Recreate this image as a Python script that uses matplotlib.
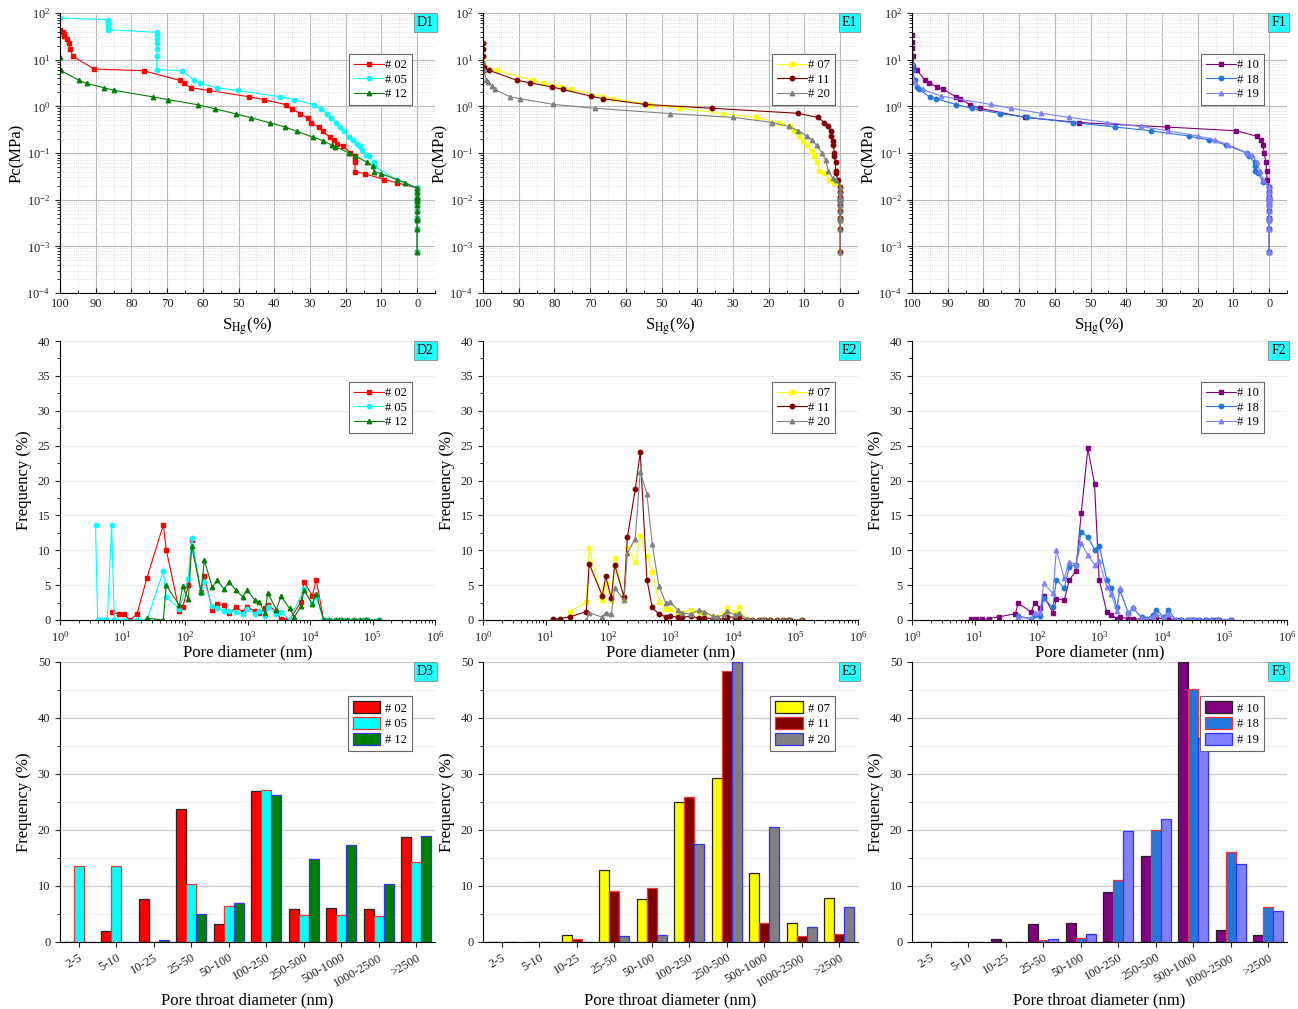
import matplotlib
matplotlib.use("Agg")
import matplotlib.pyplot as plt
from matplotlib.ticker import MultipleLocator, LogLocator, NullFormatter
import numpy as np

plt.rcParams['font.family'] = ['Liberation Serif', 'DejaVu Serif']
plt.rcParams['mathtext.fontset'] = 'stix'

N = None

# ====================================
# 1. Capillary pressure curves (row 1)
# ====================================
# points at S_Hg = 0 shared by all samples
tail_pc = [0.0148, 0.0116, 0.0101, 0.0094, 0.0077, 0.0058, 0.0040, 0.0036, 0.0023, 0.00074]

d1_02_s = [100, 99.1, 98.8, 98.8, 98.1, 97.4, 97.2, 96.4, 90.4, 76.6, 66.5, 65.2, 63.4, 58.4, 47.0, 43.0,
           36.6, 35.0, 32.7, 30.7, 29.6, 27.6, 26.4, 24.5, 23.4, 22.4, 20.7, 18.7, 17.5, 17.4, 17.4, 17.4,
           14.7, 9.2, 5.6, 0]
d1_02_p = [44, 38.5, 35.4, 32.6, 27.6, 22.7, 16.9, 11.7, 6.3, 5.8, 3.6, 3.1, 2.5, 2.2, 1.6, 1.4,
           1.08, 0.88, 0.69, 0.57, 0.45, 0.36, 0.29, 0.22, 0.19, 0.155, 0.14, 0.10, 0.085, 0.07, 0.063, 0.04,
           0.036, 0.027, 0.023, 0.0177]
d1_05_s = [100, 86.6, 86.6, 86.6, 86.6, 86.6, 86.6, 72.9, 72.9, 72.9, 72.9, 72.9, 72.9, 72.9, 65.9, 62.4,
           60.7, 56.1, 50.3, 38.3, 34.4, 29.0, 26.9, 25.2, 24.0, 22.6, 21.7, 20.6, 19.2, 18.0, 16.8, 16.1,
           15.4, 14.2, 13.5, 12.1, 12.1, 5.6, 0]
d1_05_p = [78, 72, 65, 60, 55, 48, 44, 38.5, 33, 28, 23, 17, 12, 6.1, 5.8, 3.6,
           3.1, 2.5, 2.2, 1.6, 1.4, 1.08, 0.88, 0.69, 0.57, 0.44, 0.36, 0.29, 0.22, 0.19, 0.155, 0.14,
           0.116, 0.091, 0.085, 0.063, 0.053, 0.026, 0.0177]
d1_12_s = [100, 99.8, 94.7, 92.5, 87.7, 84.8, 74.1, 69.9, 61.4, 56.7, 50.8, 46.5, 41.1, 36.9, 33.6, 29.3,
           26.4, 23.8, 22.9, 19.0, 17.3, 14.0, 12.3, 12.0, 10.1, 5.6, 3.3, 0]
d1_12_p = [11.3, 5.9, 3.6, 3.1, 2.5, 2.2, 1.6, 1.4, 1.08, 0.89, 0.69, 0.57, 0.44, 0.36, 0.29, 0.22,
           0.185, 0.145, 0.137, 0.10, 0.087, 0.063, 0.053, 0.04, 0.036, 0.027, 0.023, 0.0177]

e1_07_s = [100, 99.3, 96.2, 85.9, 83.1, 78.2, 75.4, 66.5, 63.5, 53.2, 44.9, 32.9, 23.7, 17.0, 14.0, 13.0,
           11.6, 10.5, 9.3, 7.8, 7.4, 6.5, 5.8, 4.6, 3.0, 1.8, 0]
e1_07_p = [10, 6.8, 5.9, 3.6, 3.2, 2.66, 2.3, 1.62, 1.46, 1.09, 0.91, 0.70, 0.58, 0.45, 0.37, 0.30,
           0.23, 0.18, 0.145, 0.11, 0.088, 0.063, 0.042, 0.038, 0.027, 0.023, 0.019]
e1_11_s = [100, 100, 100, 99.8, 98.3, 90.4, 86.9, 80.6, 77.6, 69.9, 66.5, 54.7, 36.0, 11.9, 6.3, 4.4,
           3.5, 2.7, 2.5, 2.1, 1.9, 1.6, 1.6, 1.3, 1.3, 1.1, 0.7, 0]
e1_11_p = [23, 17, 12, 6.8, 5.9, 3.6, 3.2, 2.6, 2.3, 1.66, 1.46, 1.1, 0.91, 0.71, 0.58, 0.45,
           0.37, 0.30, 0.23, 0.18, 0.145, 0.10, 0.088, 0.063, 0.042, 0.038, 0.027, 0.019]
e1_20_s = [100, 99.8, 99.1, 98.5, 97.6, 96.7, 92.4, 89.7, 80.3, 68.7, 47.7, 29.9, 19.0, 14.3, 11.8, 9.2,
           7.8, 6.6, 5.0, 4.1, 3.3, 2.1, 1.1, 0]
e1_20_p = [9.1, 6.1, 3.7, 3.3, 2.7, 2.3, 1.6, 1.46, 1.1, 0.91, 0.70, 0.58, 0.45, 0.37, 0.30, 0.23,
           0.19, 0.145, 0.10, 0.07, 0.042, 0.029, 0.027, 0.019]

f1_10_s = [100, 99.9, 99.9, 99.7, 99.6, 98.6, 96.3, 95.2, 92.9, 91.2, 87.7, 86.7, 83.8, 81.0, 68.4, 53.3,
           28.7, 9.3, 3.5, 2.3, 1.7, 1.4, 0.9, 0.7, 0.6, 0]
f1_10_p = [34, 24, 17.7, 12, 7.2, 5.9, 3.6, 3.2, 2.6, 2.3, 1.6, 1.46, 1.09, 0.91, 0.58, 0.45,
           0.36, 0.30, 0.23, 0.19, 0.145, 0.10, 0.063, 0.042, 0.027, 0.019]
f1_18_s = [100, 99.7, 99.3, 98.6, 98.0, 95.1, 93.3, 87.6, 83.2, 75.4, 67.7, 54.9, 43.2, 33.2, 22.4, 16.8,
           12.2, 6.3, 5.6, 4.0, 3.9, 3.9, 3.1, 1.7, 0]
f1_18_p = [8, 5.9, 3.6, 2.6, 2.3, 1.6, 1.46, 1.09, 0.91, 0.70, 0.58, 0.45, 0.36, 0.30, 0.23, 0.19,
           0.15, 0.10, 0.085, 0.063, 0.053, 0.042, 0.038, 0.024, 0.019]
f1_19_s = [100, 99.7, 99.2, 97.0, 91.8, 78.0, 72.2, 63.9, 56.0, 45.3, 36.0, 28.3, 19.9, 15.2, 11.5, 6.1,
           4.9, 3.4, 2.7, 1.7, 0]
f1_19_p = [8, 3.7, 3.3, 2.3, 1.65, 1.1, 0.91, 0.71, 0.58, 0.45, 0.37, 0.30, 0.23, 0.19, 0.15, 0.10,
           0.09, 0.064, 0.042, 0.027, 0.019]

# ====================================
# 2. Pore diameter distributions (row 2)
# ====================================
pore_d = [3.7, 4.0, 4.5, 5.0, 5.7, 6.7, 7.4, 8.9, 10.5, 13, 17, 24.5, 45, 50, 81, 92, 113, 128, 180, 204,
          273, 328, 419, 510, 651, 832, 988, 1309, 1550, 1900, 2100, 2900, 3440, 4040, 4700, 5600, 7180,
          8020, 10900, 12600, 16500, 20400, 26000, 29400, 33100, 39800, 51000, 62000, 75000, 83000, 126000]

d2_02 = [N, N, N, N, N, 1.15, N, 0.8, 0.8, 0.0, 0.8, 6.0, 13.65, 10.1, 1.3, 1.8, 5.0, 11.4, 4.05, 6.35,
         1.45, 2.25, 2.1, 0.95, 1.8, 1.2, 1.9, 1.3, 0.95, 1.65, 2.15, 1.2, 0.1, 0, 0, N, 2.6,
         5.45, 3.5, 5.8, 0, 0, 0, 0, 0, 0, 0, 0, 0, 0, 0]
d2_05 = [13.55, 0, 0, 0, 0, 13.55, 0, N, 0, N, 0, 0, 7.0, 3.35, 1.6, N, 5.9, 11.75, 3.9, 5.4,
         2.0, 1.65, 1.35, 1.35, 1.15, 0.9, 1.6, 0.9, 1.3, 0.6, 1.8, 0.8, 1.2, N, 0, N, N,
         4.4, 2.25, 3.35, 0, 0, 0, 0, 0, 0, 0, 0, 0, 0, 0]
d2_12 = [N, N, N, N, N, N, N, N, N, N, N, 0.25, 0, 5.0, 2.1, 4.85, 3.0, 10.6, 4.05, 8.55,
         4.7, 5.7, 4.45, 5.45, 4.3, 3.35, 4.3, 2.85, 2.6, 0.95, 3.9, 1.5, 3.45, N, 1.65, 0.45, 2.0,
         4.25, 2.3, 3.75, 0, 0, 0, 0, 0, 0, 0, 0, 0, 0, 0]

e2_07 = [N, N, N, N, N, N, N, N, N, N, N, 1.2, 2.6, 10.35, 2.8, 5.15, 2.75, 8.9, 3.1, 10.3,
         8.25, 12.0, 9.2, 6.9, 2.6, 1.55, 1.55, 0.95, 0.95, N, 1.45, 1.2, 1.05, N, 0.5, 0.5, 0.85,
         1.75, 1.05, 1.8, 0.1, 0, 0, 0, 0, 0, 0, 0, 0, 0, 0]
e2_11 = [N, N, N, N, N, N, N, N, N, 0.1, 0.2, 0.45, 1.2, 8.05, 3.5, 6.25, 3.1, 7.9, 3.3, 11.85,
         18.75, 24.05, 5.8, 1.85, 0.8, 0.5, 0.55, 0.4, 0.4, N, 0.55, 0.25, 0.3, N, 0.2, 0.1, 0.2,
         0.5, 0.35, 0.4, 0, 0, 0, 0, 0, 0, 0, 0, 0, 0, 0]
e2_20 = [N, N, N, N, N, N, N, N, N, N, N, N, 0, 1.05, 0.4, 1.05, 0.85, 4.6, 2.85, 9.6,
         11.65, 21.2, 18.1, 10.85, 4.9, 2.5, 2.6, 1.4, 1.0, N, 0.85, 1.45, 1.2, N, 0.6, 0.45, 0.7,
         1.3, 0.7, 1.05, 0.1, 0, 0, 0, 0, 0, 0, 0, 0, 0, 0]

f2_10 = [N, N, N, N, N, N, N, 0.1, 0.1, 0.1, 0.2, 0.45, 0.9, 2.4, 1.15, 2.5, 1.65, 3.45, 1.05, 3.05,
         2.85, 5.7, 7.05, 15.35, 24.6, 19.55, 5.8, 1.1, 0.65, 0.2, 0.4, 0.2, 0.2, N, 0.1, 0.05, 0.1,
         0.3, 0.15, 0.2, 0, 0, 0, 0, 0, 0, 0, 0, 0, 0, 0]
f2_18 = [N, N, N, N, N, N, N, N, N, N, N, N, N, 0.55, 0.2, 0.7, 0.55, 3.1, 1.8, 5.8,
         4.55, 7.65, 7.95, 12.65, 11.9, 10.1, 10.65, 5.75, 4.55, 1.8, 4.3, 1.0, 1.7, N, 0.4, 0.2, 0.75,
         1.5, 0.4, 1.5, 0, 0, 0, 0, 0, 0, 0, 0, 0, 0, 0]
f2_19 = [N, N, N, N, N, N, N, N, N, N, N, N, N, 0.4, 0.2, 1.05, 1.2, 5.25, 3.8, 10.1,
         5.95, 8.35, 7.95, 11.0, 9.3, 7.95, 8.45, 4.7, 3.7, 1.3, 4.55, 0.95, 1.8, N, 0.3, 0.1, 0.5,
         0.9, 0.3, 0.9, 0, 0, 0, 0, 0, 0, 0, 0, 0, 0, 0]

# ====================================
# 3. Pore throat classes (row 3)
# ====================================
classes = ['2-5', '5-10', '10-25', '25-50', '50-100', '100-250', '250-500', '500-1000', '1000-2500', '>2500']
d3_02 = [0, 2.0, 7.6, 23.75, 3.15, 27.0, 5.9, 6.1, 5.9, 18.7]
d3_05 = [13.6, 13.6, 0, 10.4, 6.4, 27.1, 4.9, 4.9, 4.7, 14.2]
d3_12 = [0, 0, 0.3, 5.0, 7.0, 26.2, 14.8, 17.3, 10.3, 19.0]
e3_07 = [0, 0, 1.2, 12.9, 7.7, 25.0, 29.3, 12.4, 3.4, 7.8]
e3_11 = [0, 0, 0.5, 9.1, 9.6, 25.9, 48.4, 3.4, 1.1, 1.5]
e3_20 = [0, 0, 0, 1.0, 1.2, 17.5, 50.0, 20.5, 2.7, 6.2]
f3_10 = [0, 0, 0.5, 3.2, 3.4, 9.0, 15.4, 50.0, 2.1, 1.2]
f3_18 = [0, 0, 0, 0.4, 0.8, 11.0, 20.0, 45.1, 16.1, 6.3]
f3_19 = [0, 0, 0, 0.5, 1.5, 19.9, 22.0, 36.4, 14.0, 5.6]

# sample names and colours per column
names = [['# 02', '# 05', '# 12'], ['# 07', '# 11', '# 20'], ['# 10', '# 18', '# 19']]
colors = [['#FF0000', '#00FFFF', '#008000'],
          ['#FFFF00', '#800000', '#808080'],
          ['#800080', '#2277DD', '#8080FF']]
bar_edges = ['#222222', '#FF3030', '#3030FF']
markers = ['s', 'o', '^']
tags = [['D1', 'D2', 'D3'], ['E1', 'E2', 'E3'], ['F1', 'F2', 'F3']]

row1 = [[(d1_02_s, d1_02_p), (d1_05_s, d1_05_p), (d1_12_s, d1_12_p)],
        [(e1_07_s, e1_07_p), (e1_11_s, e1_11_p), (e1_20_s, e1_20_p)],
        [(f1_10_s, f1_10_p), (f1_18_s, f1_18_p), (f1_19_s, f1_19_p)]]
row2 = [[d2_02, d2_05, d2_12], [e2_07, e2_11, e2_20], [f2_10, f2_18, f2_19]]
row3 = [[d3_02, d3_05, d3_12], [e3_07, e3_11, e3_20], [f3_10, f3_18, f3_19]]

# ====================================
# 4. Figure
# ====================================
W, H = 1298, 1009
fig = plt.figure(figsize=(W / 100, H / 100), dpi=100)
col_px = [(60, 435), (483, 858), (912, 1287)]
row_px = [(13, 293), (341, 620), (662, 942)]


def add_ax(c, r):
    x0, x1 = col_px[c]
    y0, y1 = row_px[r]
    ax = fig.add_axes([x0 / W, 1 - y1 / H, (x1 - x0) / W, (y1 - y0) / H])
    ax.spines['top'].set_visible(False)
    ax.spines['right'].set_visible(False)
    ax.tick_params(labelsize=9, colors='#222222')
    return ax


def tag(ax, text):
    ax.text(0.997, 0.99, text, transform=ax.transAxes, ha='right', va='top', fontsize=10,
            bbox=dict(boxstyle='square,pad=0.2', fc='#22FFFF', ec='#888888', lw=0.6), zorder=10)


def legend(ax, y_anchor, **kw):
    leg = ax.legend(loc='upper right', bbox_to_anchor=(0.955, y_anchor), fontsize=9,
                    fancybox=False, framealpha=1, edgecolor='#666666', labelspacing=0.2,
                    borderpad=0.4, **kw)
    leg.get_frame().set_linewidth(0.8)


for c in range(3):
    # ---- row 1: Pc vs S_Hg
    ax = add_ax(c, 0)
    for i in range(3):
        s, p = row1[c][i]
        xs = list(s) + [0] * len(tail_pc)
        ys = list(p) + tail_pc
        ax.plot(xs, ys, color=colors[c][i], lw=0.8, marker=markers[i], ms=3.2,
                label=names[c][i])
    ax.set_yscale('log')
    ax.set_xlim(100, -5)
    ax.set_ylim(1e-4, 1e2)
    ax.xaxis.set_major_locator(MultipleLocator(10))
    ax.xaxis.set_minor_locator(MultipleLocator(5))
    ax.yaxis.set_major_locator(LogLocator(base=10, numticks=10))
    ax.yaxis.set_minor_locator(LogLocator(base=10, subs=np.arange(2, 10), numticks=20))
    ax.yaxis.set_minor_formatter(NullFormatter())
    ax.set_xticks([100, 90, 80, 70, 60, 50, 40, 30, 20, 10, 0])
    ax.grid(True, which='major', color='#b8b8b8', lw=0.8)
    ax.grid(True, which='minor', color='#d8d8d8', lw=0.6, ls=':')
    ax.set_axisbelow(True)
    ax.tick_params(axis='x', which='both', direction='in')
    ax.set_ylabel('Pc(MPa)', fontsize=12, labelpad=1)
    ax.set_xlabel(r'S$_{\mathrm{Hg}}$(%)', fontsize=12, labelpad=4)
    legend(ax, 0.875, handlelength=2.4, handletextpad=0.1)
    tag(ax, tags[c][0])

    # ---- row 2: frequency vs pore diameter
    ax = add_ax(c, 1)
    for i in range(3):
        vals = row2[c][i]
        xs = [d for d, v in zip(pore_d, vals) if v is not None]
        ys = [v for v in vals if v is not None]
        ax.plot(xs, ys, color=colors[c][i], lw=0.8, marker=markers[i], ms=3.2,
                label=names[c][i])
    ax.set_xscale('log')
    ax.set_xlim(1, 1e6)
    ax.set_ylim(0, 40)
    ax.xaxis.set_major_locator(LogLocator(base=10, numticks=10))
    ax.xaxis.set_minor_locator(LogLocator(base=10, subs=np.arange(2, 10), numticks=20))
    ax.xaxis.set_minor_formatter(NullFormatter())
    ax.yaxis.set_major_locator(MultipleLocator(5))
    ax.yaxis.set_minor_locator(MultipleLocator(2.5))
    ax.grid(True, axis='y', which='major', color='#eeeeee', lw=0.8)
    ax.set_axisbelow(True)
    ax.set_ylabel('Frequency (%)', fontsize=12, labelpad=4)
    ax.set_xlabel('Pore diameter (nm)', fontsize=12, labelpad=0)
    legend(ax, 0.875, handlelength=2.4, handletextpad=0.1)
    tag(ax, tags[c][1])

    # ---- row 3: frequency by pore throat class
    ax = add_ax(c, 2)
    x = np.arange(len(classes))
    bw = 0.267
    for i in range(3):
        ax.bar(x + (i - 1) * bw, row3[c][i], width=bw, color=colors[c][i],
               edgecolor=bar_edges[i], lw=0.9, label=names[c][i], zorder=3)
    ax.set_xlim(-0.5, 9.5)
    ax.set_ylim(0, 50)
    ax.set_xticks(x)
    ax.set_xticklabels(classes, rotation=30, ha='right', rotation_mode='anchor')
    ax.yaxis.set_major_locator(MultipleLocator(10))
    ax.yaxis.set_minor_locator(MultipleLocator(5))
    ax.grid(True, axis='y', which='major', color='#cccccc', lw=0.9)
    ax.grid(True, axis='y', which='minor', color='#d8d8d8', lw=0.7, ls=':')
    ax.set_axisbelow(True)
    ax.set_ylabel('Frequency (%)', fontsize=12, labelpad=4)
    ax.set_xlabel('Pore throat diameter (nm)', fontsize=12, labelpad=2)
    legend(ax, 0.9, handlelength=2.2, handleheight=1.1, handletextpad=0.4)
    tag(ax, tags[c][2])

fig.savefig('out.png', dpi=100, facecolor='white')
